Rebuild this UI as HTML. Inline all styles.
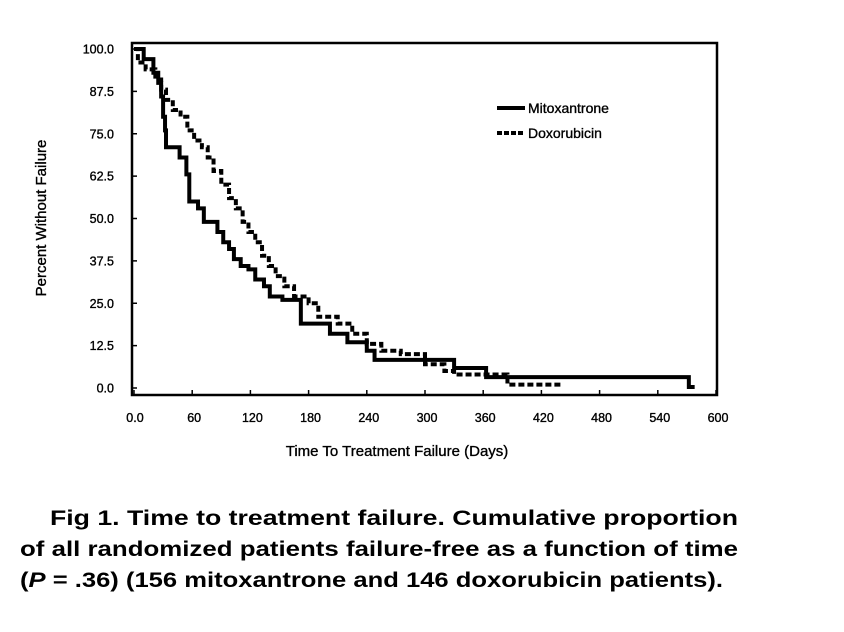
<!DOCTYPE html>
<html><head><meta charset="utf-8">
<style>
html,body{margin:0;padding:0;background:#fff;}
svg{display:block;font-family:"Liberation Sans",Arial,sans-serif;}
.lbl{stroke:#000;stroke-width:0.35;}
</style></head>
<body>
<svg id="chart" width="844" height="632" viewBox="0 0 844 632" xmlns="http://www.w3.org/2000/svg">
  <rect x="0" y="0" width="844" height="632" fill="#fff"/>
  <rect x="132" y="43" width="585" height="352" fill="none" stroke="#000" stroke-width="2.5"/>
  <g id="yaxis" class="lbl"></g>
  <g id="xaxis" class="lbl"></g>
  <g id="series"></g>
  <text class="lbl" transform="translate(46,218) rotate(-90)" text-anchor="middle" font-size="15">Percent Without Failure</text>
  <text class="lbl" x="397" y="456" text-anchor="middle" font-size="15">Time To Treatment Failure (Days)</text>
  <g>
    <line x1="497" y1="108" x2="525" y2="108" stroke="#000" stroke-width="4"/>
    <text class="lbl" x="528" y="113" font-size="14">Mitoxantrone</text>
    <line x1="497" y1="133" x2="525" y2="133" stroke="#000" stroke-width="4" stroke-dasharray="5,2"/>
    <text class="lbl" x="528" y="138" font-size="14">Doxorubicin</text>
  </g>
  <g font-weight="bold" font-size="21">
    <text x="50" y="525" textLength="688" lengthAdjust="spacingAndGlyphs">Fig 1.    Time to treatment failure. Cumulative proportion</text>
    <text x="20" y="556" textLength="718" lengthAdjust="spacingAndGlyphs">of all randomized patients failure-free as a function of time</text>
    <text x="20" y="587" textLength="703" lengthAdjust="spacingAndGlyphs">(<tspan font-style="italic">P</tspan> = .36) (156 mitoxantrone and 146 doxorubicin patients).</text>
  </g>
</svg>
<script>
const yTicks = ["0.0","12.5","25.0","37.5","50.0","62.5","75.0","87.5","100.0"];
const xTicks = [0,60,120,180,240,300,360,420,480,540,600];
const xTickLabels = ["0.0","60","120","180","240","300","360","420","480","540","600"];
const mitoDays = [0,10,20,25,28,30,32,33,47,54,57,66,72,86,92,98,103,110,118,125,134,140,153,172,202,220,240,248,330,363,572,578];
const mitoPct  = [100,97,93,90,86,80,76,71,68,63,55,53,49,46,43,41,38,36,35,32,30,27,26,19,16,13.5,11,8.3,5.9,3.2,0.3,0.3];
const doxoDays = [0,4,12,22,28,33,40,48,55,62,70,76,82,90,98,105,112,118,125,132,139,146,155,165,180,190,210,225,240,255,275,300,320,330,360,385,440];
const doxoPct  = [100,96,94,91,88,85,82,80,76,73,71,68,64,60,56,53,49,46,43,39,36,33,30,27,25,21,19,16,13,11,10,7,5,4,4,1,1];

const NS = "http://www.w3.org/2000/svg";
function xs(d){ return 134 + d*(582/600); }
function ys(p){ return 388 - p*(339/100); }
function mk(tag, attrs, parent){
  const el = document.createElementNS(NS, tag);
  for (const k in attrs) el.setAttribute(k, attrs[k]);
  parent.appendChild(el);
  return el;
}
const yaxis = document.getElementById('yaxis');
yTicks.forEach(function(lbl){
  const y = ys(parseFloat(lbl));
  const t = mk('line', {x1:132, x2:137, y1:y, y2:y, stroke:'#000', 'stroke-width':1.5}, yaxis);
  
  
  const tx = mk('text', {x:114, y:y+4.5, 'text-anchor':'end', 'font-size':12.5}, yaxis);
  
  
  tx.textContent = lbl;
});
const xaxis = document.getElementById('xaxis');
xTicks.forEach(function(d, i){
  const x = xs(d);
  const t = mk('line', {x1:x, x2:x, y1:390, y2:395, stroke:'#000', 'stroke-width':1.5}, xaxis);
  
  
  const tx = mk('text', {x:x+ (i===0?1:2), y:422, 'text-anchor':'middle', 'font-size':12.5}, xaxis);
  
  
  tx.textContent = xTickLabels[i];
});
function stepPath(days, pct){
  let d = 'M' + xs(days[0]) + ',' + ys(pct[0]);
  for (let i = 1; i < days.length; i++){
    d += ' H' + xs(days[i]) + ' V' + ys(pct[i]);
  }
  return d;
}
const series = document.getElementById('series');
const doxo = mk('path', {d: stepPath(doxoDays, doxoPct), fill:'none', stroke:'#000', 'stroke-width':4, 'stroke-dasharray':'6,3'}, series);


const mito = mk('path', {d: stepPath(mitoDays, mitoPct), fill:'none', stroke:'#000', 'stroke-width':4}, series);


</script>
</body></html>
